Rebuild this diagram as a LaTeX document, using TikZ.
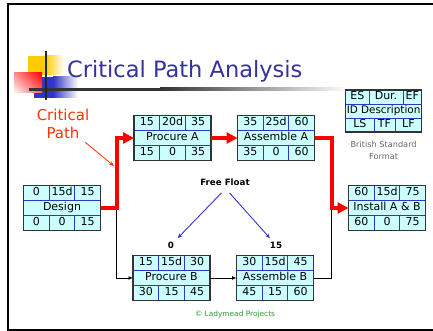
\documentclass[tikz,border=0pt]{standalone}
\usepackage{fontspec}
\setmainfont{DejaVu Sans}
\usetikzlibrary{arrows.meta,positioning,shadings}

\definecolor{cellfill}{HTML}{CCFFFF}
\definecolor{gridblue}{HTML}{3333CC}
\definecolor{boxline}{HTML}{333333}
\definecolor{titleblue}{HTML}{333399}
\definecolor{critred}{HTML}{FF0000}
\definecolor{labelred}{HTML}{FF3300}
\definecolor{decoyellow}{HTML}{FFCC00}
\definecolor{decoblue}{HTML}{3333CC}
\definecolor{copygreen}{HTML}{339933}

\newcommand{\activity}[9]{%
  \node[act] (#1) at (#2) {#6};
  \path[draw,gridline]
    ([yshift=7.5pt]#1.west) -- ([yshift=7.5pt]#1.east)
    ([yshift=-7.5pt]#1.west) -- ([yshift=-7.5pt]#1.east)
    ([xshift=-12.8pt]#1.north) -- ([xshift=-12.8pt,yshift=7.5pt]#1.center)
    ([xshift=12.8pt]#1.north) -- ([xshift=12.8pt,yshift=7.5pt]#1.center)
    ([xshift=-12.8pt]#1.south) -- ([xshift=-12.8pt,yshift=-7.5pt]#1.center)
    ([xshift=12.8pt]#1.south) -- ([xshift=12.8pt,yshift=-7.5pt]#1.center);
  \path[draw,boxedge] (#1.north west) rectangle (#1.south east);
  \node[cell] (#1a) at ([xshift=-25.6pt,yshift=15pt]#1.center) {#3};
  \node[cell] (#1b) at ([yshift=15pt]#1.center) {#4};
  \node[cell] (#1c) at ([xshift=25.6pt,yshift=15pt]#1.center) {#5};
  \node[cell] (#1d) at ([xshift=-25.6pt,yshift=-15pt]#1.center) {#7};
  \node[cell] (#1e) at ([yshift=-15pt]#1.center) {#8};
  \node[cell] (#1f) at ([xshift=25.6pt,yshift=-15pt]#1.center) {#9};
}

\begin{document}
\begin{tikzpicture}[x=1pt,y=-1pt,node distance=39pt,
  act/.style={rectangle,fill=cellfill,minimum width=77pt,minimum height=45pt,
    inner sep=0pt,outer sep=0pt,text height=8pt,text depth=2.3pt,
    font=\fontsize{11}{12}\selectfont},
  cell/.style={inner sep=0pt,text height=8pt,text depth=2.3pt,
    font=\fontsize{11}{12}\selectfont},
  gridline/.style={gridblue,line width=0.9pt},
  boxedge/.style={boxline,line width=1.1pt},
  crit/.style={critred,line width=4pt,-{Triangle[length=11pt,width=11pt]}},
  thinline/.style={black,line width=0.9pt},
  smallarrow/.style={-{Latex[length=4.5pt,width=4pt]}},
  floatarrow/.style={gridblue,line width=0.9pt,-{Stealth[length=5pt,width=4pt]}},
  titletext/.style={text=titleblue,font=\fontsize{22.5}{27}\selectfont,inner sep=0pt},
  cplabel/.style={align=center,text=labelred,font=\fontsize{15}{18}\selectfont},
  fflabel/.style={font=\bfseries\fontsize{8.7}{10}\selectfont},
  bscaption/.style={align=center,text=black!60,font=\fontsize{8.2}{12}\selectfont},
  copytext/.style={text=copygreen,font=\fontsize{7.4}{9}\selectfont}]

\useasboundingbox (0,0) rectangle (433,331);
\fill[white] (0,0) rectangle (433,331);
\draw[line width=2pt] (440,4.3) -- (8.3,4.3) -- (8.3,329.8) -- (440,329.8);

% title bullet
\fill[decoyellow] (28,56) rectangle (45,75);
\shade[left color=decoyellow,right color=white] (45,56) rectangle (64,75);
\fill[decoblue] (34,77) rectangle (53,98);
\shade[left color=decoblue,right color=white] (53,77) rectangle (78,98);
\shade[upper left=red!45,upper right=red,lower left=red!3,lower right=red!60] (14,73) rectangle (42,93);
\fill[black!80] (29,88) rectangle (160,91);
\shade[left color=black!80,right color=white] (160,88) rectangle (350,91);
\draw[black!85,line width=2pt] (46,51) -- (46,100);

\node[titletext,anchor=base west] (t) at (67,78) {Critical Path Analysis};

\activity{1}{62,208}{0}{15d}{15}{Design}{0}{0}{15}
\activity{2}{172.5,138}{15}{20d}{35}{Procure A}{15}{0}{35}
\activity{3}{276,138}{35}{25d}{60}{Assemble A}{35}{0}{60}
\activity{4}{171.5,278}{15}{15d}{30}{Procure B}{30}{15}{45}
\activity{5}{275,278}{30}{15d}{45}{Assemble B}{45}{15}{60}
\activity{6}{387,208}{60}{15d}{75}{Install A \& B}{60}{0}{75}

\coordinate (j1) at (116.5,208);
\coordinate (j2) at (331.5,208);

\path[draw,thinline,smallarrow] (j1) |- (4);
\path[draw,thinline,smallarrow] (4) -- (5);
\path[draw,thinline] (5) -| (j2);

\path[draw,crit] (1) -- (j1) |- (2);
\path[draw,crit] (2) -- (3);
\path[draw,crit] (3) -| (j2) -- (6);

% legend
\node[act,minimum width=76pt,minimum height=42pt,font=\fontsize{10.4}{12}\selectfont] (l) at (383.6,111) {ID Description};
\path[draw,gridline]
  ([yshift=7pt]l.west) -- ([yshift=7pt]l.east)
  ([yshift=-7pt]l.west) -- ([yshift=-7pt]l.east)
  ([xshift=-14.6pt]l.north) -- ([xshift=-14.6pt,yshift=7pt]l.center)
  ([xshift=19.4pt]l.north) -- ([xshift=19.4pt,yshift=7pt]l.center)
  ([xshift=-9.6pt]l.south) -- ([xshift=-9.6pt,yshift=-7pt]l.center)
  ([xshift=11.4pt]l.south) -- ([xshift=11.4pt,yshift=-7pt]l.center);
\path[draw,boxedge] (l.north west) rectangle (l.south east);
\node[cell] (les) at ([xshift=-26.3pt,yshift=14pt]l.center) {ES};
\node[cell] (ldur) at ([xshift=2.4pt,yshift=14pt]l.center) {Dur.};
\node[cell] (lef) at ([xshift=28.7pt,yshift=14pt]l.center) {EF};
\node[cell] (lls) at ([xshift=-23.8pt,yshift=-14pt]l.center) {LS};
\node[cell] (ltf) at ([xshift=0.9pt,yshift=-14pt]l.center) {TF};
\node[cell] (llf) at ([xshift=24.8pt,yshift=-14pt]l.center) {LF};
\node[bscaption] (bs) [below of = l] {British Standard\\Format};

\node[cplabel] (cp) at (63,124) {Critical\\Path};
\coordinate (cpe) at (114,166);
\path[draw,labelred,line width=0.8pt,-{Stealth[length=5pt,width=4pt]}] (cp) -- (cpe);

\node[fflabel] (ff) at (225,182) {Free Float};
\node[fflabel] (f0) at (171,245) {0};
\node[fflabel] (f15) at (276,245) {15};
\path[draw,floatarrow] ([xshift=-3.5pt,yshift=-4pt]ff.south) -- (f0);
\path[draw,floatarrow] ([xshift=4.5pt,yshift=-4pt]ff.south) -- (f15);

\node[copytext] (cr) at (235,314) {© Ladymead Projects};

\end{tikzpicture}
\end{document}
